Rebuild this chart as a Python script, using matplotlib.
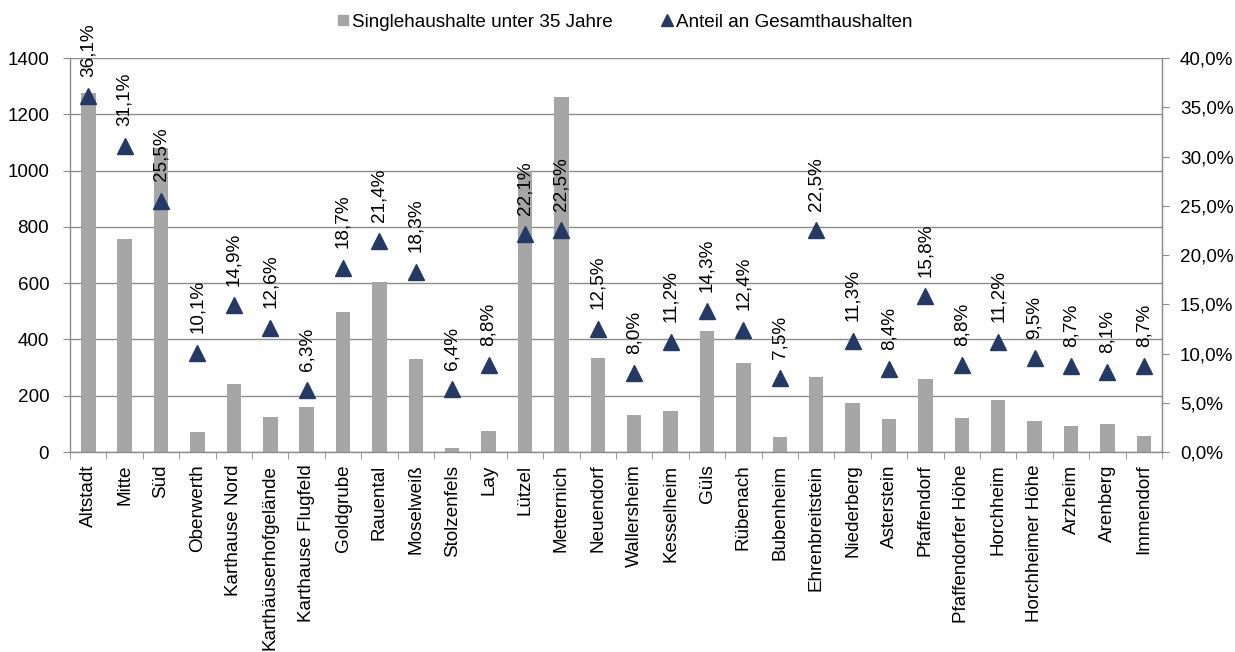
import matplotlib.pyplot as plt
from matplotlib.lines import Line2D
from matplotlib.ticker import FuncFormatter, MultipleLocator

plt.rcParams["font.family"] = ["Liberation Sans", "DejaVu Sans"]

districts = [
    "Altstadt", "Mitte", "Süd", "Oberwerth", "Karthause Nord",
    "Karthäuserhofgelände", "Karthause Flugfeld", "Goldgrube", "Rauental",
    "Moselweiß", "Stolzenfels", "Lay", "Lützel", "Metternich", "Neuendorf",
    "Wallersheim", "Kesselheim", "Güls", "Rübenach", "Bubenheim",
    "Ehrenbreitstein", "Niederberg", "Asterstein", "Pfaffendorf",
    "Pfaffendorfer Höhe", "Horchheim", "Horchheimer Höhe", "Arzheim",
    "Arenberg", "Immendorf",
]
singles = [
    1277, 756, 1080, 70, 242, 123, 159, 496, 604, 329,
    13, 76, 1000, 1260, 335, 131, 145, 430, 316, 52,
    266, 173, 118, 259, 121, 185, 110, 92, 99, 58,
]
share = [
    36.1, 31.1, 25.5, 10.1, 14.9, 12.6, 6.3, 18.7, 21.4, 18.3,
    6.4, 8.8, 22.1, 22.5, 12.5, 8.0, 11.2, 14.3, 12.4, 7.5,
    22.5, 11.3, 8.4, 15.8, 8.8, 11.2, 9.5, 8.7, 8.1, 8.7,
]

bar_color = "#A6A6A6"
marker_color = "#243A66"
line_color = "#8C8C8C"
fs = 13.6


def pct(v, pos=None):
    return f"{v:.1f}".replace(".", ",") + "%"


fig, ax = plt.subplots(figsize=(12.35, 6.52), dpi=100)
fig.subplots_adjust(left=0.0567, right=0.9409, bottom=0.3067, top=0.911)

x = list(range(len(districts)))
ax.bar(x, singles, width=0.4, color=bar_color, zorder=2)
ax.set_xlim(-0.5, len(districts) - 0.5)
ax.set_ylim(0, 1400)
ax.yaxis.set_major_locator(MultipleLocator(200))
ax.grid(axis="y", color=line_color, linewidth=1.0, zorder=0)
ax.set_axisbelow(True)

ax.set_xticks(x)
ax.set_xticklabels(districts, rotation=90, fontsize=fs)
ax.set_xticks([i - 0.5 for i in range(len(districts) + 1)], minor=True)
ax.tick_params(axis="x", which="major", length=0, pad=9)
ax.tick_params(axis="x", which="minor", length=5, color=line_color, direction="out")
ax.tick_params(axis="y", labelsize=fs, length=5, color=line_color, pad=10)

ax.spines["top"].set_visible(False)
for side in ["left", "right", "bottom"]:
    ax.spines[side].set_color(line_color)
    ax.spines[side].set_linewidth(1.0)

ax2 = ax.twinx()
ax2.plot(x, share, linestyle="none", marker="^", markersize=11,
         color=marker_color, zorder=5)
ax2.set_ylim(0, 40)
ax2.yaxis.set_major_locator(MultipleLocator(5))
ax2.yaxis.set_major_formatter(FuncFormatter(pct))
ax2.tick_params(axis="y", labelsize=fs, length=5, color=line_color, pad=8)
for side in ["top", "left", "bottom"]:
    ax2.spines[side].set_visible(False)
ax2.spines["right"].set_color(line_color)

for i, v in zip(x, share):
    ax2.annotate(pct(v), xy=(i, v), xytext=(0, 14), textcoords="offset points",
                 rotation=90, ha="center", va="bottom", fontsize=fs, zorder=6)

handles = [
    Line2D([], [], linestyle="none", marker="s", markersize=7.5,
           color=bar_color, label="Singlehaushalte unter 35 Jahre"),
    Line2D([], [], linestyle="none", marker="^", markersize=9,
           color=marker_color, label="Anteil an Gesamthaushalten"),
]
fig.legend(handles=handles, loc="upper center", bbox_to_anchor=(0.506, 1.005),
           ncol=2, frameon=False, fontsize=fs, handlelength=0.6,
           handletextpad=0.15, columnspacing=2.6)

fig.savefig("out.png", dpi=100)
